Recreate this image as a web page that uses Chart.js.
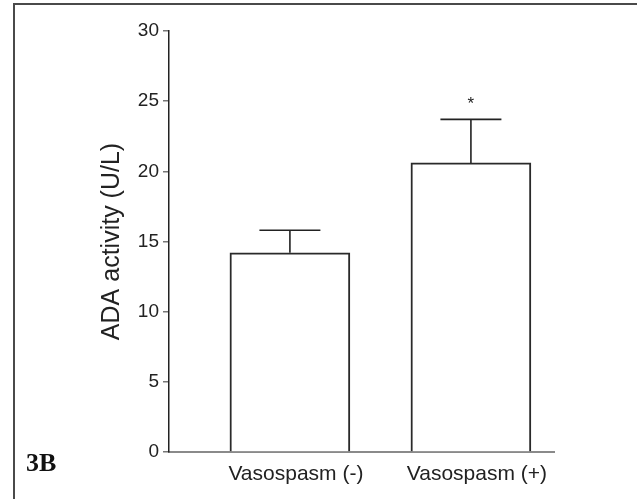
<!DOCTYPE html>
<html>
<head>
<meta charset="utf-8">
<script src="https://cdn.jsdelivr.net/npm/chart.js@4/dist/chart.umd.min.js"></script>
<style>
  html, body { margin:0; padding:0; background:#fff; overflow:hidden; }
  #wrap { position:relative; width:637px; height:499px; }
  #frame { position:absolute; left:13px; top:3px; width:700px; height:600px;
           border-top:2px solid #4a4a4a; border-left:2px solid #4a4a4a; pointer-events:none; }
  canvas { position:absolute; left:0; top:0; }
</style>
</head>
<body>
<div id="wrap">
  <canvas id="c" width="637" height="499"></canvas>
  <div id="frame"></div>
</div>
<script>
const categories = ["Vasospasm (-)", "Vasospasm (+)"];
const categoryPositions = [1, 2];
const meanValues = [14.2, 20.6];
const errorValues = [1.6, 3.1];
const significance = ["", "*"];
const yTicks = [0, 5, 10, 15, 20, 25, 30];
const yTitle = "ADA activity (U/L)";
const panelLabel = "3B";

const errorBarPlugin = {
  id: 'errorBars',
  afterDatasetsDraw(chart) {
    const ctx = chart.ctx;
    const xs = chart.scales.x, ys = chart.scales.y;
    ctx.save();
    ctx.strokeStyle = '#222';
    ctx.lineWidth = 1.6;
    categoryPositions.forEach((p, i) => {
      const x = xs.getPixelForValue(p);
      const yTop = ys.getPixelForValue(meanValues[i] + errorValues[i]);
      const yBar = ys.getPixelForValue(meanValues[i]);
      ctx.beginPath();
      ctx.moveTo(x, yBar);
      ctx.lineTo(x, yTop);
      ctx.moveTo(x - 30.5, yTop);
      ctx.lineTo(x + 30.5, yTop);
      ctx.stroke();
      if (significance[i]) {
        ctx.fillStyle = '#222';
        ctx.font = '17px "Liberation Sans", Arial, sans-serif';
        ctx.textAlign = 'center';
        ctx.textBaseline = 'middle';
        ctx.fillText(significance[i], x, yTop - 15);
      }
    });
    ctx.fillStyle = '#111';
    ctx.font = 'bold 26px "Liberation Serif", "Times New Roman", serif';
    ctx.textAlign = 'left';
    ctx.textBaseline = 'alphabetic';
    ctx.fillText(panelLabel, 26, 471);
    ctx.restore();
  }
};

new Chart(document.getElementById('c'), {
  type: 'bar',
  data: {
    datasets: [{
      data: categoryPositions.map((p, i) => ({ x: p, y: meanValues[i] })),
      backgroundColor: '#ffffff',
      borderColor: '#2a2a2a',
      borderWidth: 2,
      barThickness: 120
    }]
  },
  options: {
    responsive: false,
    animation: false,
    events: [],
    layout: { padding: { left: 86, top: 31, right: 83, bottom: 0 } },
    plugins: { legend: { display: false }, tooltip: { enabled: false } },
    scales: {
      x: {
        type: 'linear',
        offset: false,
        min: 0.332,
        max: 2.459,
        afterBuildTicks(scale) { scale.ticks = categoryPositions.map(v => ({ value: v })); },
        afterFit(scale) { scale.height = 47; },
        grid: { display: false, drawTicks: false, offset: false },
        border: { display: true, color: '#8a8a8a', width: 2 },
        ticks: {
          padding: 10,
          labelOffset: 6,
          color: '#222',
          font: { family: '"Liberation Sans", Arial, sans-serif', size: 21 },
          autoSkip: false,
          maxRotation: 0,
          callback(v) { const i = categoryPositions.indexOf(v); return i >= 0 ? categories[i] : ''; }
        }
      },
      y: {
        min: 0,
        max: 30,
        afterBuildTicks(scale) { scale.ticks = yTicks.map(v => ({ value: v })); },
        afterFit(scale) { scale.width = 83; },
        grid: { drawOnChartArea: false, drawTicks: true, tickLength: 6, color: '#777', lineWidth: 1.5 },
        border: { display: true, color: '#222', width: 1.5 },
        ticks: {
          padding: 4,
          color: '#222',
          font: { family: '"Liberation Sans", Arial, sans-serif', size: 19 }
        },
        title: {
          display: true,
          text: yTitle,
          color: '#222',
          padding: { top: 11, bottom: 0 },
          font: { family: '"Liberation Sans", Arial, sans-serif', size: 25 }
        }
      }
    }
  },
  plugins: [errorBarPlugin]
});
</script>
</body>
</html>
